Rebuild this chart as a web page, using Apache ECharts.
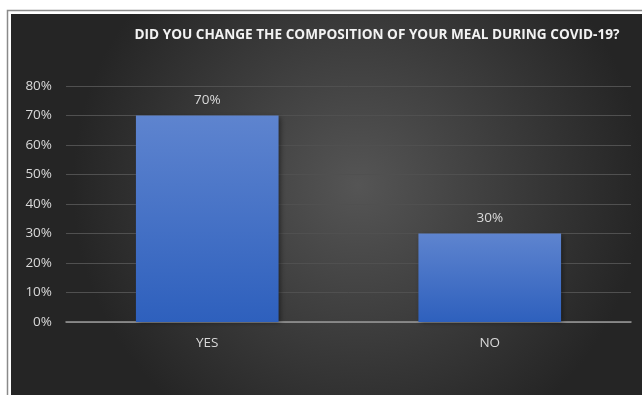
<!DOCTYPE html>
<html>
<head>
<meta charset="utf-8">
<script src="https://cdn.jsdelivr.net/npm/echarts@6/dist/echarts.min.js"></script>
<style>
  html, body { margin: 0; padding: 0; background: #ffffff; }
  #chart { width: 642px; height: 395px; }
</style>
</head>
<body>
<div id="chart"></div>
<script>
// Survey answers and their shares (percent)
const categories = ['YES', 'NO'];
const shares = [70, 30];
const yTicks = [0, 10, 20, 30, 40, 50, 60, 70, 80];
const chartTitle = 'DID YOU CHANGE THE COMPOSITION OF YOUR MEAL DURING COVID-19?';

const chart = echarts.init(document.getElementById('chart'), null, { renderer: 'canvas' });
const font = '"Open Sans", "Noto Sans", sans-serif';
const labelColor = '#d9d9d9';

chart.setOption({
  backgroundColor: '#ffffff',
  animation: false,
  graphic: [
    {
      type: 'rect', z: -10, silent: true,
      shape: { x: 7.5, y: 10.5, width: 640, height: 390 },
      style: { fill: '#ffffff', stroke: '#8a8a8a', lineWidth: 1.5 }
    },
    {
      type: 'rect', z: -9, silent: true,
      shape: { x: 11, y: 14, width: 631, height: 381 },
      style: {
        fill: {
          type: 'radial', x: 0.55, y: 0.45, r: 0.75,
          colorStops: [
            { offset: 0, color: '#555555' },
            { offset: 1, color: '#252525' }
          ]
        }
      }
    }
  ],
  title: {
    text: chartTitle,
    left: 372, top: 23, textAlign: 'center',
    textStyle: { color: '#f2f2f2', fontFamily: font, fontSize: 13.6, fontWeight: 'bold' }
  },
  grid: { left: 66, right: 11, top: 86, bottom: 73, containLabel: false },
  xAxis: {
    type: 'category',
    data: categories,
    axisLine: { lineStyle: { color: '#9a9a9a', width: 1.5 } },
    axisTick: { show: false },
    axisLabel: { color: labelColor, fontFamily: font, fontSize: 13.5, margin: 14 }
  },
  yAxis: {
    type: 'value',
    min: 0, max: 80, interval: 10,
    axisLine: { show: false },
    axisTick: { show: false },
    splitLine: { lineStyle: { color: '#505050', width: 1 } },
    axisLabel: {
      color: labelColor, fontFamily: font, fontSize: 13.5, margin: 14,
      formatter: v => yTicks.includes(v) ? v + '%' : ''
    }
  },
  series: [{
    type: 'bar',
    data: shares,
    barWidth: '50.5%',
    itemStyle: {
      color: {
        type: 'linear', x: 0, y: 0, x2: 0, y2: 1,
        colorStops: [
          { offset: 0, color: '#5e84cf' },
          { offset: 1, color: '#2e60bd' }
        ]
      },
      shadowColor: 'rgba(0,0,0,0.45)',
      shadowBlur: 5,
      shadowOffsetX: 2,
      shadowOffsetY: 1
    },
    label: {
      show: true, position: 'top', distance: 8,
      color: labelColor, fontFamily: font, fontSize: 13.5,
      formatter: p => p.value + '%'
    }
  }]
});
</script>
</body>
</html>
